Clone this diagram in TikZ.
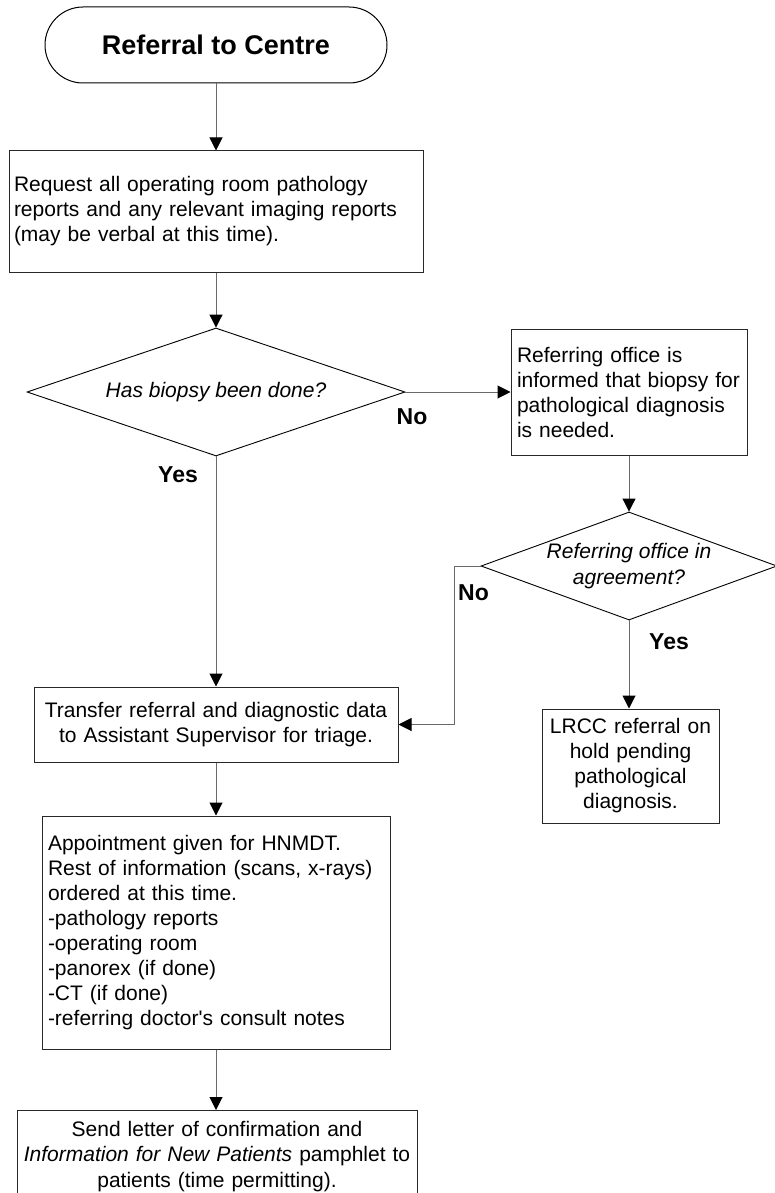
\documentclass[tikz,border=0pt]{standalone}
\usepackage{fontspec}
\setmainfont{Liberation Sans}
\usetikzlibrary{arrows.meta,shapes.geometric,shapes.misc}
\definecolor{connc}{RGB}{105,105,105}
\definecolor{boxc}{RGB}{40,40,40}
\begin{document}
\begin{tikzpicture}[x=1pt,y=-1pt,
  every node/.style={font=\fontsize{21}{25}\selectfont},
  box/.style={draw=boxc, line width=1pt, rectangle, inner sep=0pt},
  dec/.style={draw=black, line width=0.9pt, diamond, inner sep=0pt, font=\fontsize{21}{26}\selectfont\itshape},
  lbl/.style={font=\fontsize{23}{26}\selectfont\bfseries, inner sep=0pt},
  conn/.style={draw=connc, line width=1pt, -{Triangle[length=13pt,width=13pt,color=black]}}
]
\fill[white] (0,0) rectangle (774,1193);
\useasboundingbox (0,0) rectangle (774,1193);

\node[rounded rectangle, draw=black, line width=1pt, minimum width=342pt, minimum height=76pt, inner sep=0pt, font=\fontsize{27}{30}\selectfont\bfseries] (term) at (216,45) {Referral to Centre};

\node[box, text width=404pt, inner xsep=5pt, minimum height=121pt, align=left] (req) at (216,211.5) {Request all operating room pathology\\reports and any relevant imaging reports\\(may be verbal at this time).};

\node[dec, aspect=2.95, minimum width=378pt, minimum height=128pt] (d1) at (216,392) {Has biopsy been done?};

\node[box, text width=224pt, inner xsep=6pt, minimum height=126pt, align=left] (inf) at (629,392) {Referring office is\\informed that biopsy for\\pathological diagnosis\\is needed.};

\node[dec, aspect=2.74, minimum width=296pt, minimum height=108pt, align=center] (d2) at (629,566) {Referring office in\\agreement?};

\node[box, text width=165pt, inner xsep=6pt, minimum height=114pt, align=center] (lrcc) at (630.5,766) {LRCC referral on\\hold pending\\pathological\\diagnosis.};

\node[box, text width=352pt, inner xsep=6pt, minimum height=75pt, align=center] (trans) at (216,724.5) {Transfer referral and diagnostic data\\to Assistant Supervisor for triage.};

\node[box, text width=336pt, inner xsep=6pt, minimum height=233pt, align=left] (appt) at (216,932.5) {Appointment given for HNMDT.\\Rest of information (scans, x-rays)\\ordered at this time.\\-pathology reports\\-operating room\\-panorex (if done)\\-CT (if done)\\-referring doctor\textquotesingle s consult notes};

\node[box, text width=388pt, inner xsep=6pt, minimum height=92pt, align=center, anchor=north, font=\fontsize{21}{25.5}\selectfont] (letter) at (217,1110) {Send letter of confirmation and\\\textit{Information for New Patients} pamphlet to\\patients (time permitting).};

\node[lbl] (no1) at (412,417) {No};
\node[lbl] (yes1) at (178,475) {Yes};
\node[lbl, anchor=west] (no2) at (458,593) {No};
\node[lbl] (yes2) at (669,642) {Yes};

\draw[conn] (term.south) -- (req.north);
\draw[conn] (req.south) -- (d1.north);
\draw[conn] (d1.east) -- (inf.west);
\draw[conn] (inf.south) -- (d2.north);
\draw[conn] (d2.south) -- (d2.south |- lrcc.north);
\draw[conn] (d2.west) -- ++(-26,0) |- (trans.east);
\draw[conn] (d1.south) -- (trans.north);
\draw[conn] (trans.south) -- (appt.north);
\draw[conn] (appt.south) -- (appt.south |- letter.north);
\end{tikzpicture}
\end{document}
